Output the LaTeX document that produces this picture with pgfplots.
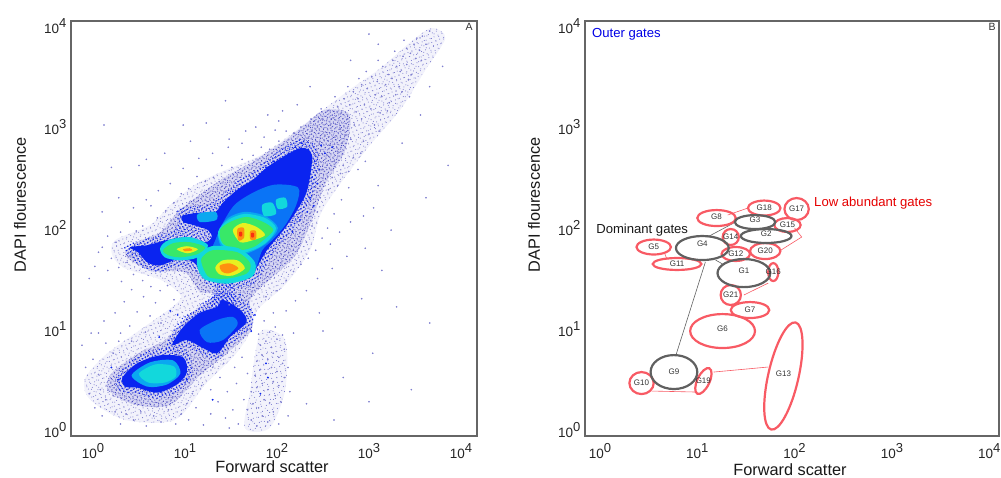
\documentclass[border=0pt]{standalone}
\usepackage{fontspec}
\setmainfont{Liberation Sans}
\usepackage{pgfplots}
\usetikzlibrary{patterns.meta}
\pgfplotsset{compat=1.18}
\definecolor{frame}{HTML}{666666}
\definecolor{halo}{HTML}{F2F2FB}
\definecolor{midd}{HTML}{D6D6F2}
\definecolor{bl}{HTML}{0A24F0}
\definecolor{mb}{HTML}{0A74F6}
\definecolor{lb}{HTML}{0AA8F0}
\definecolor{cy}{HTML}{12D8DC}
\definecolor{gr}{HTML}{38E868}
\definecolor{ye}{HTML}{E8F020}
\definecolor{orn}{HTML}{FF9010}
\definecolor{rd}{HTML}{F83010}
\definecolor{evdot}{HTML}{8080D0}
\definecolor{evdk}{HTML}{4A4AC4}
\definecolor{gred}{HTML}{F85A64}
\definecolor{ggray}{HTML}{606060}
\newcommand\pw[1]{10\raisebox{0.42em}{\fontsize{13}{13}\selectfont #1}}
\newcommand\layer[2]{\edef\tmpl{\noexpand\addplot[#1,draw=none,smooth cycle,tension=0.5,forget plot] coordinates {#2};}\tmpl}
\newcommand\reg[2]{\layer{fill=#1}{#2}}
\newcommand\patt[5]{\layer{pattern={Dots[distance=#2,angle=#3,radius=#4]},pattern color=#1}{#5}}
\newcommand\gate[2]{\addplot[draw=#1,line width=2.2pt,smooth cycle,tension=0.68,forget plot] coordinates {#2};}
\newcommand\glab[3]{\node[font=\fontsize{8}{9}\selectfont,text=black!80] at (axis cs:#1,#2) {#3};}
\def\haloA{(3.68,3.98)(3.45,3.84)(3.12,3.58)(2.79,3.37)(2.47,3.15)(2.14,2.92)(1.82,2.72)(1.43,2.57)(1.11,2.43)(.84,2.23)(.62,2.03)(.24,1.88)(.21,1.73)(.35,1.60)(.73,1.49)(.95,1.34)(.89,1.24)(.51,.99)(.13,.74)(-.09,.50)(-.03,.30)(.35,.10)(.89,.10)(1.22,.45)(1.54,.74)(1.71,.97)(1.79,1.19)(2.09,1.44)(2.36,1.78)(2.47,2.13)(2.68,2.43)(3.01,2.82)(3.34,3.17)(3.61,3.56)(3.83,3.88)}
\def\haloB{(1.84,.99)(2.09,.89)(2.09,.40)(1.92,.02)(1.65,.02)(1.71,.40)(1.76,.74)}
\def\midA{(2.30,3.02)(2.09,2.87)(1.76,2.67)(1.43,2.50)(1.16,2.33)(.92,2.16)(.73,1.96)(.46,1.85)(.35,1.73)(.62,1.58)(1.00,1.56)(1.16,1.37)(1.33,1.34)(1.05,1.14)(.78,.89)(.51,.77)(.21,.57)(.16,.40)(.46,.25)(.84,.25)(1.16,.54)(1.47,.77)(1.73,1.01)(1.71,1.29)(1.92,1.49)(2.20,1.73)(2.38,2.08)(2.52,2.43)(2.74,2.77)(2.79,3.12)(2.52,3.17)}
\def\grainA{(1.30,2.25)(1.56,2.46)(1.75,2.56)(1.92,2.70)(2.25,2.88)(2.45,2.76)(2.40,2.36)(2.28,2.14)(2.13,1.94)(1.95,1.74)(1.84,1.56)(1.72,1.44)(1.50,1.40)(1.26,1.43)(1.10,1.58)(.92,1.62)(.72,1.56)(.55,1.60)(.40,1.72)(.34,1.82)(.60,1.90)(.82,1.96)(.92,2.04)(.92,2.18)(1.12,2.22)}
\def\grainB{(1.45,1.38)(1.70,1.24)(1.74,1.05)(1.52,.86)(1.35,.70)(1.18,.75)(1.00,.82)(.78,.78)(.92,1.06)(1.14,1.22)(1.30,1.34)}
\def\grainC{(.25,.52)(.46,.72)(.73,.81)(1.02,.79)(1.08,.56)(.94,.40)(.70,.31)(.46,.36)(.30,.38)}
\pgfplotsset{panel/.style={
  scale only axis, anchor=south west, height=415pt,
  ymin=-0.059, ymax=4.05,
  xtick={0,1,2,3,4}, ytick={0,1,2,3,4},
  xticklabels={\pw{0},\pw{1},\pw{2},\pw{3},\pw{4}},
  yticklabels={\pw{0},\pw{1},\pw{2},\pw{3},\pw{4}},
  major tick length=0pt, minor tick num=0,
  axis line style={draw=frame,line width=1.4pt},
  tick label style={font=\fontsize{13.5}{14}\selectfont,text=black!85},
  xticklabel style={yshift=-4pt},
  yticklabel style={xshift=-1pt},
  label style={font=\fontsize{16.3}{18}\selectfont,text=black!90},
  ylabel={DAPI flourescence}, xlabel={Forward scatter},
  ylabel style={at={(rel axis cs:0,0.557)},anchor=center,yshift=51pt},
  xlabel style={at={(rel axis cs:0.495,0)},anchor=center,yshift=-31pt},
  clip=true, axis on top=true,
}}
\begin{document}
\begin{tikzpicture}
\path[use as bounding box] (0,0) rectangle (1001pt,478pt);
% ---------------- panel A ----------------
\begin{axis}[panel, at={(71pt,42pt)}, width=406pt, xmin=-0.239, xmax=4.174]
\reg{halo}{\haloA}
\reg{halo}{\haloB}
\patt{evdot}{4.3pt}{23}{0.55pt}{\haloA}
\patt{evdot}{5.3pt}{61}{0.55pt}{\haloA}
\patt{evdot}{5.1pt}{11}{0.55pt}{\haloB}
\patt{evdot}{6.1pt}{47}{0.55pt}{\haloB}
\reg{midd}{\midA}
\patt{evdk}{3.1pt}{37}{0.6pt}{\midA}
\patt{evdk}{3.7pt}{71}{0.6pt}{\midA}
\patt{evdot}{4.1pt}{5}{0.6pt}{\midA}
% scattered events
\addplot[only marks,color=evdot,mark=*,mark size=0.6pt,mark options={fill=evdot,draw=none},forget plot] coordinates {
(3.66,3.95)(3.52,3.88)(3.49,3.82)(3.58,3.90)(3.41,3.78)(3.37,3.70)(3.45,3.73)(3.55,3.76)(3.30,3.60)(3.26,3.66)(3.34,3.55)(3.41,3.62)(3.21,3.52)(3.15,3.60)(3.09,3.45)(3.18,3.42)(3.25,3.48)(3.03,3.50)(2.98,3.38)(3.07,3.32)(3.14,3.30)(2.92,3.42)(2.88,3.28)(2.95,3.22)(3.02,3.18)(2.83,3.35)(2.79,3.22)(2.86,3.15)(2.92,3.08)(2.73,3.28)(2.70,3.14)(2.77,3.08)(2.84,3.02)(2.66,3.20)(2.61,3.09)(2.69,2.98)(2.75,2.92)(2.58,3.02)(2.55,3.16)(2.49,3.08)(2.63,2.90)(2.71,2.84)(2.80,2.88)(2.44,3.00)(2.52,2.92)(2.58,2.82)(2.66,2.76)(2.38,2.96)(2.46,2.84)(2.34,2.90)(2.55,2.72)(2.62,2.66)(2.72,2.62)(2.83,2.70)(2.94,2.86)(3.06,3.02)(3.12,3.14)(3.22,3.24)(3.33,3.40)(3.46,3.52)(3.57,3.66)(3.62,3.82)(3.38,3.86)(3.28,3.75)(3.10,3.66)(2.97,3.55)(2.89,3.48)(2.77,3.40)(2.63,3.30)(2.48,3.18)(2.37,3.08)(2.26,3.00)(2.18,2.94)(2.30,2.88)(2.42,2.72)(2.50,2.58)(2.60,2.50)(2.66,2.42)(2.56,2.38)(2.47,2.30)(2.44,2.16)(2.38,2.02)(2.32,1.86)
(3.51,3.68)(3.43,3.47)(3.36,3.35)(3.29,3.32)(3.20,3.16)(3.11,2.96)(3.00,2.93)(2.91,2.74)(2.78,2.56)(2.69,2.54)
(2.10,2.96)(2.02,2.86)(1.92,2.78)(1.83,2.80)(1.74,2.72)(1.62,2.68)(1.51,2.60)(1.40,2.62)(1.31,2.50)(1.22,2.46)(1.13,2.51)(1.04,2.39)(.96,2.34)(.88,2.25)(.79,2.17)(.70,2.10)(.63,2.22)(.54,2.02)(.47,1.97)(.40,2.06)
(1.62,2.84)(1.48,2.88)(1.30,2.74)(1.15,2.69)(.98,2.59)(.84,2.44)(.71,2.37)(.58,2.28)(.44,2.20)(1.06,2.86)(1.77,3.00)(1.23,3.04)(1.90,3.12)(2.06,3.16)(2.22,3.22)(2.02,3.06)(1.66,2.96)(1.47,2.80)(1.86,2.90)(1.98,2.97)
(.16,1.92)(.25,1.86)(.30,1.96)(.10,1.81)(.06,1.76)(.20,1.70)(.28,1.61)(.37,1.66)(.44,1.54)(.54,1.48)(.63,1.42)(.73,1.38)(.81,1.43)(.88,1.29)(.68,1.26)(.55,1.32)(.42,1.39)(.31,1.47)(.16,1.58)(.02,1.62)(.34,1.27)(.48,1.17)(.62,1.13)(.74,1.06)(.24,1.16)(.12,1.08)(.40,1.03)(.57,.97)(.28,.88)(.06,.96)
(1.48,1.24)(1.58,1.30)(1.80,1.40)(1.88,1.32)(2.00,1.38)(2.10,1.48)(2.18,1.57)(2.26,1.64)(2.34,1.70)(2.42,1.78)(2.49,1.90)(2.55,2.00)(2.62,2.14)(2.70,2.28)(2.78,2.40)(2.88,2.58)(2.96,2.66)(2.58,1.84)(2.68,1.96)(2.80,2.06)(2.94,2.12)(3.05,2.20)(2.44,1.50)(2.60,1.60)(2.76,1.72)(2.96,1.80)(3.14,1.58)(2.20,1.28)(2.32,1.38)(2.10,1.18)(1.96,1.16)(1.86,1.08)
(-.08,.62)(.00,.70)(.06,.55)(.08,.40)(-.04,.36)(.02,.22)(.14,.30)(.10,.14)(.24,.18)(.30,.06)(.22,.34)(.36,.16)(.44,.10)(.52,.18)(.58,.04)(.66,.14)(.74,.08)(.82,.20)(.90,.06)(.96,.16)(1.04,.10)(1.12,.22)(1.20,.05)(1.28,.16)(1.36,.28)(1.44,.12)(1.52,.20)(1.58,.06)(1.08,.36)(1.18,.44)(1.28,.40)(1.38,.52)(1.46,.38)(1.56,.46)(1.30,.62)(1.42,.66)(1.54,.62)(1.62,.72)(1.68,.56)(1.64,.30)(1.48,.02)(.96,.42)(.86,.32)(1.02,.26)(-.12,.84)(-.02,.96)(.14,.86)(.22,.76)(.30,.96)(.42,.88)
(1.72,.10)(1.78,.04)(1.84,.14)(1.90,.08)(1.96,.18)(2.02,.06)(1.68,.20)(1.74,.26)(1.80,.22)(1.86,.30)(1.92,.27)(1.98,.34)(2.04,.28)(1.72,.38)(1.78,.42)(1.84,.46)(1.90,.40)(1.96,.48)(2.02,.44)(2.08,.52)(1.76,.54)(1.82,.60)(1.88,.56)(1.94,.62)(2.00,.58)(2.06,.66)(1.78,.68)(1.84,.74)(1.90,.70)(1.96,.76)(2.02,.72)(2.08,.80)(1.82,.84)(1.88,.88)(1.94,.82)(2.00,.90)(2.06,.94)(1.80,.95)(1.92,.97)(1.98,1.02)(2.12,.62)(2.14,.38)(2.12,.14)
(.58,2.68)(.28,2.30)(-.04,1.50)(.78,2.74)(.98,3.02)(1.44,3.26)(.50,2.62)(.10,2.16)(2.36,3.40)(2.80,3.66)(3.10,3.82)(3.44,3.30)(3.66,3.40)(3.80,3.60)(3.10,2.42)(3.36,2.84)(3.56,3.12)(3.24,1.98)(3.62,2.30)(3.86,2.62)(2.92,1.30)(3.30,1.22)(3.66,1.06)(3.04,.76)(2.50,.98)(2.72,.52)(2.32,.26)(2.62,.10)(3.00,.28)(3.46,.40)(2.46,1.16)(2.18,.96)(.12,3.02)(3.00,3.92)(.20,2.60)
};
% dense blue grain where the streak thickens
\addplot[only marks,color=bl,mark=*,mark size=0.7pt,mark options={fill=bl,draw=none},forget plot] coordinates {
(2.34,2.78)(2.41,2.66)(2.27,2.84)(2.46,2.58)(2.38,2.50)(2.52,2.74)(2.44,2.44)(2.60,2.80)(2.48,2.82)(2.20,2.80)(2.13,2.74)(2.04,2.68)(1.96,2.66)(1.88,2.60)(1.84,2.54)(2.36,2.30)(2.40,2.22)(2.33,2.16)(2.25,2.08)(2.17,1.96)(.84,1.18)(.92,1.14)(.72,.92)(1.60,1.34)(1.76,1.14)(1.72,.98)(1.82,.36)(1.88,.66)(1.90,.52)(1.30,.30)(1.02,.50)(.28,.50)(.20,.62)
};
\patt{bl}{3.2pt}{29}{0.85pt}{\grainA}
\patt{bl}{3.2pt}{29}{0.85pt}{\grainB}
\patt{bl}{3.2pt}{29}{0.85pt}{\grainC}
\patt{bl}{3.0pt}{41}{0.85pt}{(1.36,1.47)(1.51,1.47)(1.55,1.24)(1.27,1.19)}
\reg{bl}{(.40,1.81)(.59,1.83)(.80,1.88)(1.05,1.91)(1.22,1.86)(1.29,1.91)(1.25,1.98)(1.09,2.03)(.98,2.06)(.97,2.12)(1.13,2.15)(1.33,2.16)(1.41,2.25)(1.57,2.38)(1.74,2.48)(1.92,2.62)(2.25,2.79)(2.38,2.72)(2.33,2.38)(2.22,2.18)(2.07,1.98)(1.89,1.78)(1.78,1.61)(1.71,1.51)(1.52,1.47)(1.27,1.49)(1.18,1.53)(1.11,1.65)(.95,1.70)(.73,1.63)(.59,1.66)(.49,1.76)}
\reg{bl}{(1.41,1.29)(1.60,1.19)(1.67,1.07)(1.49,.92)(1.35,.76)(1.20,.81)(1.02,.89)(.86,.84)(.98,1.02)(1.16,1.16)(1.35,1.22)}
\reg{mb}{(1.16,.99)(1.35,1.09)(1.52,1.12)(1.57,1.04)(1.41,.89)(1.24,.87)}
\reg{bl}{(.32,.52)(.48,.66)(.73,.74)(.98,.72)(1.02,.57)(.91,.45)(.70,.37)(.48,.42)(.35,.43)}
\reg{lb}{(.42,.54)(.62,.67)(.87,.69)(.95,.56)(.80,.45)(.59,.43)}
\reg{cy}{(.50,.56)(.68,.65)(.88,.63)(.90,.53)(.78,.47)(.60,.47)}
\reg{mb}{(1.40,2.03)(1.54,2.23)(1.76,2.36)(1.98,2.43)(2.23,2.40)(2.21,2.23)(2.09,2.03)(1.95,1.88)(1.84,1.78)(1.76,1.58)(1.65,1.51)(1.33,1.50)(1.20,1.58)(1.33,1.88)}
\reg{lb}{(1.14,2.14)(1.33,2.16)(1.34,2.08)(1.16,2.06)}
\reg{lb}{(1.36,1.96)(1.47,2.10)(1.65,2.16)(1.87,2.12)(2.01,2.00)(1.90,1.86)(1.76,1.78)(1.58,1.73)(1.40,1.81)}
\reg{cy}{(1.84,2.23)(1.95,2.25)(1.99,2.14)(1.86,2.12)}
\reg{cy}{(1.99,2.28)(2.09,2.30)(2.11,2.21)(2.01,2.19)}
\reg{cy}{(1.36,1.96)(1.47,2.08)(1.65,2.14)(1.87,2.10)(1.99,2.00)(1.90,1.87)(1.76,1.79)(1.58,1.75)(1.41,1.83)}
\reg{gr}{(1.38,1.98)(1.49,2.06)(1.67,2.11)(1.85,2.06)(1.96,1.98)(1.85,1.88)(1.74,1.81)(1.57,1.78)(1.41,1.85)}
\reg{ye}{(1.52,1.98)(1.63,2.05)(1.78,2.01)(1.87,1.93)(1.74,1.88)(1.60,1.86)}
\reg{orn}{(1.57,1.99)(1.64,2.00)(1.64,1.90)(1.58,1.88)}
\reg{orn}{(1.71,1.97)(1.77,1.97)(1.77,1.89)(1.71,1.89)}
\reg{rd}{(1.59,1.96)(1.62,1.96)(1.62,1.92)(1.59,1.92)}
\reg{rd}{(1.72,1.95)(1.75,1.95)(1.75,1.91)(1.72,1.91)}
\reg{cy}{(1.14,1.73)(1.29,1.82)(1.58,1.80)(1.76,1.66)(1.73,1.52)(1.47,1.45)(1.22,1.49)(1.14,1.60)}
\reg{gr}{(1.18,1.70)(1.30,1.78)(1.57,1.76)(1.71,1.65)(1.67,1.55)(1.46,1.50)(1.27,1.51)(1.20,1.60)}
\reg{ye}{(1.33,1.61)(1.41,1.68)(1.57,1.68)(1.65,1.60)(1.52,1.53)(1.38,1.54)}
\reg{orn}{(1.38,1.63)(1.49,1.65)(1.58,1.60)(1.47,1.55)(1.40,1.57)}
\reg{cy}{(.73,1.80)(.82,1.88)(1.05,1.91)(1.25,1.83)(1.14,1.71)(.95,1.68)(.78,1.71)}
\reg{gr}{(.76,1.78)(.87,1.85)(1.05,1.86)(1.22,1.81)(1.13,1.74)(.95,1.71)(.82,1.73)}
\reg{ye}{(.91,1.79)(1.02,1.82)(1.14,1.79)(1.03,1.75)}
\reg{orn}{(.98,1.79)(1.05,1.80)(1.08,1.78)(1.00,1.77)}
\node[font=\fontsize{10.5}{11}\selectfont,text=black!80] at (axis cs:4.087,3.99) {A};
\end{axis}
% ---------------- panel B ----------------
\begin{axis}[panel, at={(585pt,42pt)}, width=414pt, xmin=-0.154, xmax=4.101, xlabel style={yshift=-3pt}]
% links between gates
\addplot[draw=ggray,line width=0.6pt,forget plot] coordinates {(.781,.743)(1.083,1.663)};
\addplot[draw=ggray,line width=0.6pt,forget plot] coordinates {(1.375,2.050)(1.104,1.911)};
\addplot[draw=ggray,line width=0.6pt,forget plot] coordinates {(1.188,1.683)(1.260,1.644)};
\addplot[draw=gred,line width=0.6pt,forget plot] coordinates {(1.521,2.198)(1.313,2.129)};
\addplot[draw=gred,line width=0.6pt,forget plot] coordinates {(2.0,2.0)(2.073,1.911)(1.844,1.772)};
\addplot[draw=gred,line width=0.6pt,forget plot] coordinates {(.667,1.743)(.688,1.693)};
\addplot[draw=gred,line width=0.6pt,forget plot] coordinates {(1.479,1.337)(1.729,1.455)};
\addplot[draw=gred,line width=0.6pt,forget plot] coordinates {(.531,.386)(1.0,.376)};
\addplot[draw=gred,line width=0.6pt,forget plot] coordinates {(1.167,.574)(1.729,.624)};
% low abundant gates
\gate{gred}{(.729,1.812)(.677,1.864)(.552,1.886)(.427,1.864)(.375,1.812)(.427,1.760)(.552,1.738)(.677,1.760)}
\gate{gred}{(1.593,.980)(1.496,1.099)(1.260,1.148)(1.024,1.099)(.927,.980)(1.024,.861)(1.260,.812)(1.496,.861)}
\gate{gred}{(1.740,1.188)(1.682,1.244)(1.542,1.267)(1.402,1.244)(1.344,1.188)(1.402,1.132)(1.542,1.109)(1.682,1.132)}
\gate{gred}{(1.396,2.099)(1.338,2.155)(1.198,2.178)(1.058,2.155)(1.000,2.099)(1.058,2.043)(1.198,2.020)(1.338,2.043)}
\gate{gred}{(.552,.465)(.515,.542)(.427,.574)(.339,.542)(.302,.465)(.339,.388)(.427,.356)(.515,.388)}
\gate{gred}{(1.042,1.644)(.969,1.686)(.792,1.703)(.615,1.686)(.542,1.644)(.615,1.602)(.792,1.585)(.969,1.602)}
\gate{gred}{(1.542,1.743)(1.499,1.792)(1.396,1.812)(1.293,1.792)(1.250,1.743)(1.293,1.694)(1.396,1.674)(1.499,1.694)}
\gate{gred}{(2.037,.502)(2.081,.886)(2.010,1.065)(1.866,.933)(1.733,.568)(1.689,.184)(1.760,.005)(1.904,.137)}
\gate{gred}{(1.427,1.911)(1.403,1.967)(1.344,1.990)(1.285,1.967)(1.261,1.911)(1.285,1.855)(1.344,1.832)(1.403,1.855)}
\gate{gred}{(2.062,2.030)(2.023,2.079)(1.927,2.099)(1.831,2.079)(1.792,2.030)(1.831,1.981)(1.927,1.961)(2.023,1.981)}
\gate{gred}{(1.833,1.564)(1.818,1.627)(1.781,1.653)(1.744,1.627)(1.729,1.564)(1.744,1.501)(1.781,1.475)(1.818,1.501)}
\gate{gred}{(2.146,2.188)(2.109,2.265)(2.021,2.297)(1.933,2.265)(1.896,2.188)(1.933,2.111)(2.021,2.079)(2.109,2.111)}
\gate{gred}{(1.855,2.198)(1.806,2.250)(1.688,2.272)(1.570,2.250)(1.521,2.198)(1.570,2.146)(1.688,2.124)(1.806,2.146)}
\gate{gred}{(1.120,.460)(1.147,.556)(1.124,.611)(1.066,.592)(1.005,.510)(.979,.414)(1.001,.359)(1.059,.378)}
\gate{gred}{(1.854,1.772)(1.808,1.828)(1.698,1.851)(1.588,1.828)(1.542,1.772)(1.588,1.716)(1.698,1.693)(1.808,1.716)}
\gate{gred}{(1.448,1.337)(1.418,1.407)(1.344,1.436)(1.270,1.407)(1.240,1.337)(1.270,1.267)(1.344,1.238)(1.418,1.267)}
% dominant gates
\gate{ggray}{(1.750,1.554)(1.671,1.652)(1.479,1.693)(1.287,1.652)(1.208,1.554)(1.287,1.456)(1.479,1.415)(1.671,1.456)}
\gate{ggray}{(1.968,1.921)(1.892,1.970)(1.708,1.990)(1.524,1.970)(1.448,1.921)(1.524,1.872)(1.708,1.852)(1.892,1.872)}
\gate{ggray}{(1.802,2.059)(1.741,2.108)(1.594,2.128)(1.447,2.108)(1.386,2.059)(1.447,2.010)(1.594,1.990)(1.741,2.010)}
\gate{ggray}{(1.323,1.802)(1.244,1.886)(1.052,1.921)(.860,1.886)(.781,1.802)(.860,1.718)(1.052,1.683)(1.244,1.718)}
\gate{ggray}{(1.000,.574)(.930,.693)(.760,.742)(.590,.693)(.520,.574)(.590,.455)(.760,.406)(.930,.455)}
\glab{1.479}{1.574}{G1}\glab{1.708}{1.941}{G2}\glab{1.594}{2.079}{G3}\glab{1.052}{1.842}{G4}
\glab{.552}{1.812}{G5}\glab{1.260}{1.000}{G6}\glab{1.542}{1.188}{G7}\glab{1.198}{2.109}{G8}
\glab{.760}{.574}{G9}\glab{.427}{.465}{G10}\glab{.792}{1.644}{G11}\glab{1.396}{1.743}{G12}
\glab{1.885}{.555}{G13}\glab{1.344}{1.911}{G14}\glab{1.927}{2.030}{G15}\glab{1.781}{1.564}{G16}
\glab{2.021}{2.188}{G17}\glab{1.688}{2.198}{G18}\glab{1.062}{.485}{G19}\glab{1.698}{1.772}{G20}\glab{1.344}{1.337}{G21}
\node[anchor=west,inner sep=0pt,font=\fontsize{13.1}{14}\selectfont,text=blue!90!black] at (axis cs:-.082,3.92) {Outer gates};
\node[anchor=west,inner sep=0pt,font=\fontsize{13.1}{14}\selectfont,text=red!90!black] at (axis cs:2.2,2.25) {Low abundant gates};
\node[anchor=west,inner sep=0pt,font=\fontsize{13.1}{14}\selectfont,text=black!90] at (axis cs:-.04,1.98) {Dominant gates};
\node[font=\fontsize{10.5}{11}\selectfont,text=black!80] at (axis cs:4.03,3.99) {B};
\end{axis}
\end{tikzpicture}
\end{document}
